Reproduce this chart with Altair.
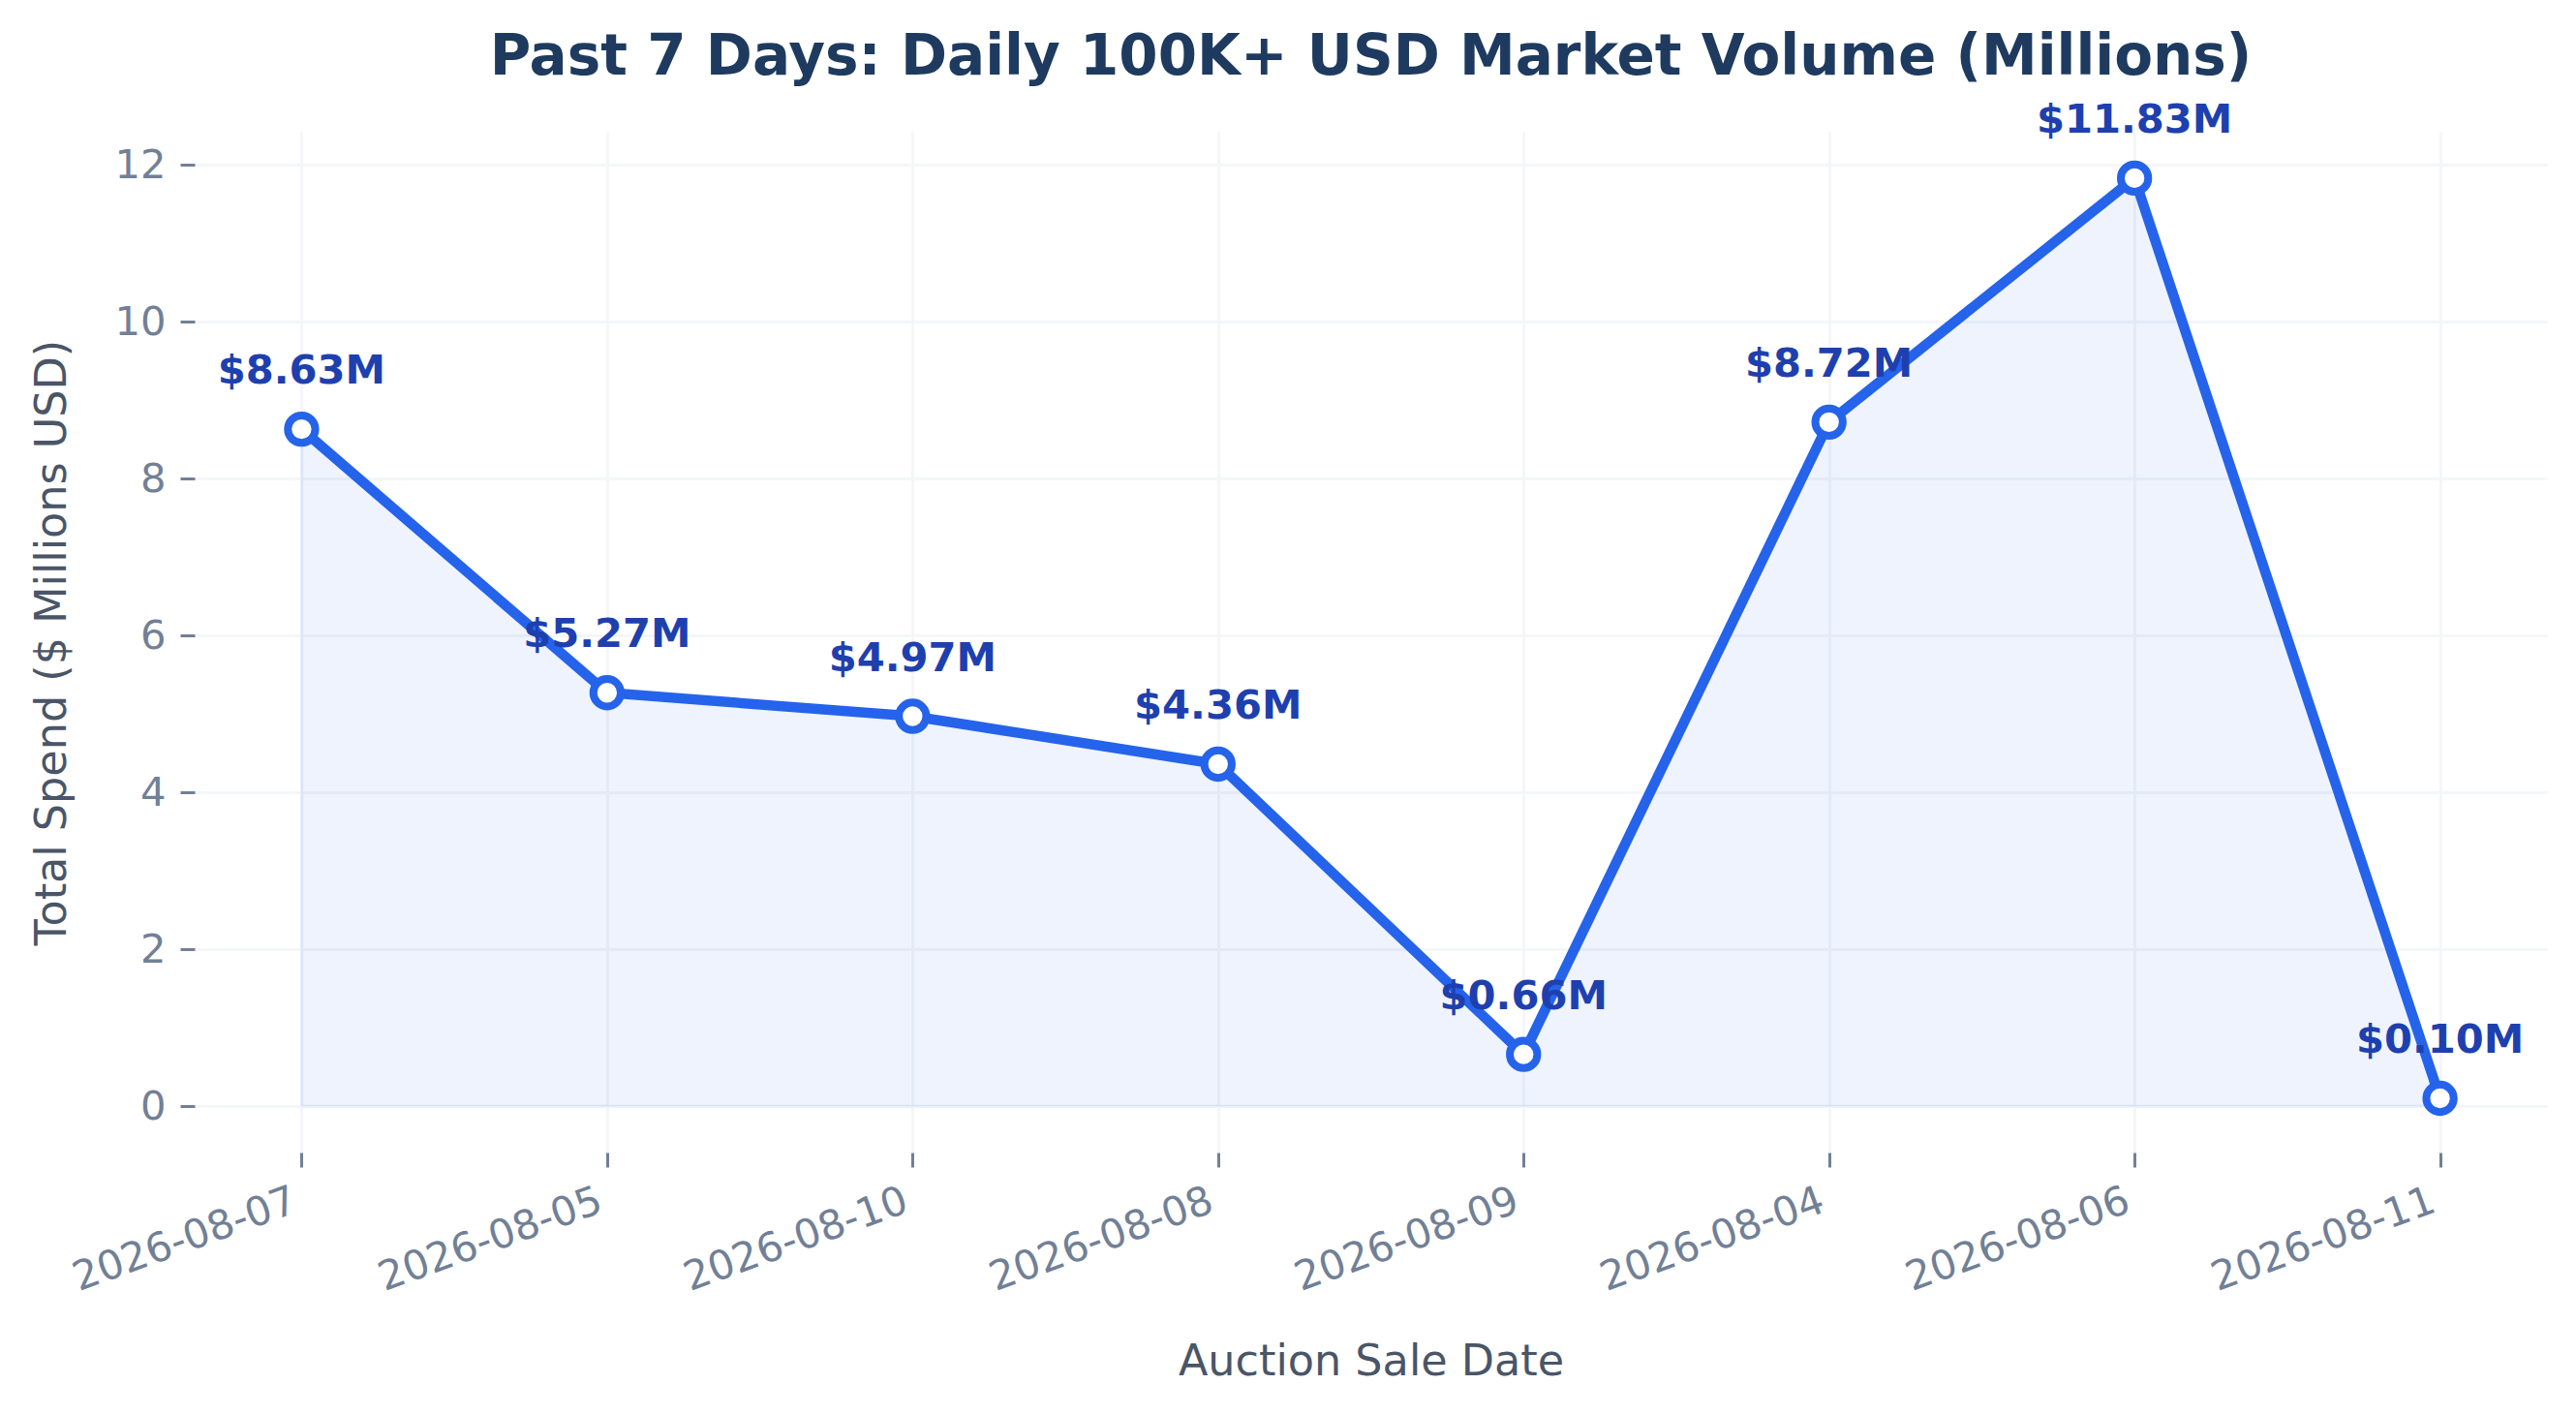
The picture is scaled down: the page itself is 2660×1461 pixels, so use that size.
import altair as alt
import pandas as pd

dates = ["2026-08-07", "2026-08-05", "2026-08-10", "2026-08-08",
         "2026-08-09", "2026-08-04", "2026-08-06", "2026-08-11"]
values = [8.63, 5.27, 4.97, 4.36, 0.66, 8.72, 11.83, 0.10]
labels = ["$8.63M", "$5.27M", "$4.97M", "$4.36M", "$0.66M", "$8.72M", "$11.83M", "$0.10M"]
y_ticks = [0, 2, 4, 6, 8, 10, 12]

df = pd.DataFrame({"date": dates, "value": values, "label": labels})

FONT = "DejaVu Sans"
W, H = 2429, 1054
GRID = "#f4f6f9"

x_enc = alt.X(
    "date:O",
    sort=dates,
    scale=alt.Scale(type="point", padding=0.35),
    axis=alt.Axis(
        title="Auction Sale Date",
        labelAngle=-20, labelAlign="right", labelBaseline="top",
        labelOffset=-14, labelPadding=14, labelLimit=0,
        labelFontSize=41.7, labelColor="#718096", labelFont=FONT,
        tickSize=15, tickWidth=3, tickColor="#718096",
        domain=False, grid=True, gridColor=GRID, gridWidth=3,
        titleFontSize=44.5, titleFontWeight="normal", titleColor="#4a5568", titleFont=FONT,
        titleX=W / 2, titleY=229.5, titleBaseline="alphabetic", titleAlign="center",
    ),
)
y_enc = alt.Y(
    "value:Q",
    stack=None,
    scale=alt.Scale(domain=[-0.5915, 12.4215], nice=False, zero=False),
    axis=alt.Axis(
        title="Total Spend ($ Millions USD)",
        values=y_ticks,
        labelFontSize=41.7, labelColor="#718096", labelFont=FONT, labelPadding=15,
        tickSize=15, tickWidth=3, tickColor="#718096",
        domain=False, grid=True, gridColor=GRID, gridWidth=3,
        titleFontSize=44.5, titleFontWeight="normal", titleColor="#4a5568", titleFont=FONT,
        titleAngle=270, titleX=-134, titleY=H / 2, titleBaseline="alphabetic", titleAlign="center",
    ),
)

base = alt.Chart(df)

area = base.mark_area(
    color="#2563eb", fillOpacity=0.08, stroke="#2563eb", strokeOpacity=0.06, strokeWidth=3
).encode(x=x_enc, y=y_enc, y2=alt.datum(0))

line = base.mark_line(color="#2563eb", strokeWidth=10.5).encode(x=x_enc, y=y_enc)

points = base.mark_point(
    shape="circle", filled=True, fill="white", stroke="#2563eb",
    strokeWidth=8, size=804, opacity=1
).encode(x=x_enc, y=y_enc)

text = base.mark_text(
    font=FONT, fontSize=41.7, fontWeight="bold", color="#1e40af",
    align="center", baseline="alphabetic", dy=-47
).encode(x=x_enc, y=y_enc, text="label:N")

chart = alt.layer(area, line, points, text).properties(
    width=W, height=H,
    title=alt.TitleParams(
        "Past 7 Days: Daily 100K+ USD Market Volume (Millions)",
        font=FONT, fontSize=58, fontWeight="bold", color="#1e3a5f",
        anchor="middle", frame="group", baseline="alphabetic", offset=29, dy=60,
    ),
    autosize=alt.AutoSizeParams(type="none"),
    padding={"left": 193, "top": 128, "right": 10, "bottom": 250},
).configure_view(stroke=None)

chart.save("out.html", embed_options={"renderer": "svg", "actions": False})
